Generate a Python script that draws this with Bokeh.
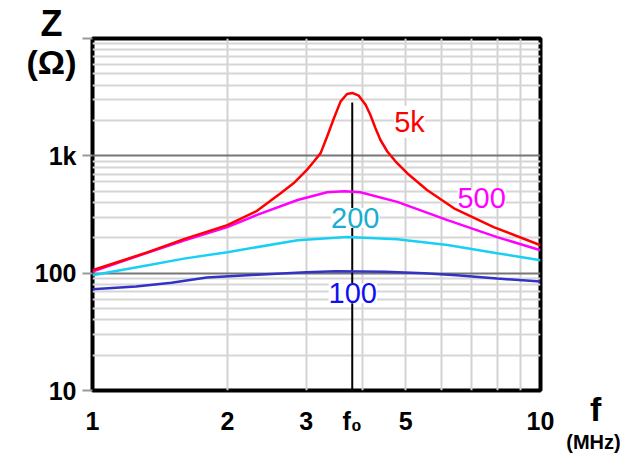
from bokeh.plotting import figure
from bokeh.models import FixedTicker, Grid, Label
from bokeh.embed import file_html
from bokeh.resources import INLINE

# ---- data ----
f0 = 3.8
x_ticks = [1, 2, 3, f0, 5, 10]
x_tick_labels = ["1", "2", "3", "f\u2080", "5", "10"]
y_ticks = [10, 100, 1000, 10000]
y_tick_labels = ["10", "100", "1k", ""]
x_grid = [2, 3, 4, 5, 6, 7, 8, 9]
y_grid = [20, 30, 40, 50, 60, 70, 80, 90,
          200, 300, 400, 500, 600, 700, 800, 900,
          2000, 3000, 4000, 5000, 6000, 7000, 8000, 9000]
y_decades = [100, 1000]

f_5k = [1.0, 1.33, 1.6, 2.0, 2.33, 2.63, 2.81, 3.01, 3.12, 3.23, 3.34, 3.46, 3.58, 3.70, 3.80,
        3.93, 4.07, 4.17, 4.28, 4.39, 4.55, 4.75, 5.04, 5.58, 6.41, 7.86, 10.0]
z_5k = [106, 151, 195, 257, 340, 480, 583, 759, 894, 1055, 1462, 2099, 2912, 3367, 3434,
        3258, 2729, 2240, 1726, 1371, 1089, 894, 711, 512, 357, 247, 173]

f_500 = [1.0, 1.33, 1.6, 2.0, 2.33, 2.87, 3.34, 3.65, 3.96, 4.79, 6.2, 8.0, 10.0]
z_500 = [103, 150, 190, 247, 314, 420, 490, 500, 490, 405, 283, 203, 157]

f_200 = [1.0, 1.33, 1.6, 2.0, 2.87, 3.7, 4.79, 6.2, 8.0, 10.0]
z_200 = [96, 117, 133, 151, 191, 203, 195, 174, 148, 129]

f_100 = [1.0, 1.25, 1.5, 1.8, 2.33, 3.0, 3.5, 4.5, 5.5, 6.5, 8.0, 10.0]
z_100 = [73, 77, 83, 92, 97, 102, 104, 103, 100, 96, 90, 85]

curve_names = ["5k", "500", "200", "100"]
curve_colors = ["#ff0000", "#ff00ff", "#18d0f4", "#3232c4"]
label_colors = ["#ff0000", "#ff00ff", "#1aaed0", "#1010f0"]
label_pos = [(5.1, 1950), (7.39, 437), (3.86, 295), (3.81, 67.5)]

FONT = "Liberation Sans"

p = figure(width=639, height=455, x_axis_type="log", y_axis_type="log",
           x_range=(1, 10), y_range=(10, 10000),
           output_backend="svg", toolbar_location=None,
           min_border_left=92, min_border_right=99,
           min_border_top=38, min_border_bottom=65,
           background_fill_color="white", border_fill_color="white")

p.outline_line_color = "black"
p.outline_line_width = 4

# grids
p.xgrid.ticker = FixedTicker(ticks=x_grid)
p.xgrid.grid_line_color = "#d2d2d2"
p.xgrid.grid_line_width = 2
p.ygrid.ticker = FixedTicker(ticks=y_grid)
p.ygrid.grid_line_color = "#d6d6d6"
p.ygrid.grid_line_width = 2
p.add_layout(Grid(dimension=1, ticker=FixedTicker(ticks=y_decades),
                  grid_line_color="#777777", grid_line_width=2))

# axes
p.xaxis.ticker = FixedTicker(ticks=x_ticks)
p.xaxis.major_label_overrides = {t: l for t, l in zip(x_ticks, x_tick_labels)}
p.xaxis.axis_line_color = None
p.xaxis.major_tick_line_color = None
p.xaxis.minor_tick_line_color = None
p.xaxis.major_label_standoff = 10
p.xaxis.major_label_text_font = FONT
p.xaxis.major_label_text_font_style = "bold"
p.xaxis.major_label_text_font_size = "25px"
p.xaxis.major_label_text_color = "black"

p.yaxis.ticker = FixedTicker(ticks=y_ticks)
p.yaxis.major_label_overrides = {t: l for t, l in zip(y_ticks, y_tick_labels)}
p.yaxis.axis_line_color = None
p.yaxis.major_tick_line_color = "#999999"
p.yaxis.major_tick_line_width = 2
p.yaxis.major_tick_out = 10
p.yaxis.major_tick_in = 0
p.yaxis.minor_tick_line_color = None
p.yaxis.major_label_standoff = 6
p.yaxis.major_label_text_font = FONT
p.yaxis.major_label_text_font_style = "bold"
p.yaxis.major_label_text_font_size = "25px"
p.yaxis.major_label_text_color = "black"

# f0 marker line
p.segment(x0=[f0], y0=[10], x1=[f0], y1=[max(z_5k) * 0.83],
          line_color="black", line_width=2)

# curves
series = [(f_100, z_100), (f_200, z_200), (f_500, z_500), (f_5k, z_5k)]
colors_in_order = [curve_colors[3], curve_colors[2], curve_colors[1], curve_colors[0]]
for (fx, zy), c in zip(series, colors_in_order):
    p.line(fx, zy, line_color=c, line_width=2.5)

# curve labels
for name, c, (lx, ly) in zip(curve_names, label_colors, label_pos):
    p.add_layout(Label(x=lx, y=ly, text=name, text_color=c,
                       text_font=FONT, text_font_size="29px",
                       text_align="center", text_baseline="middle",
                       background_fill_color="white"))

# axis titles: placed in side panels (not clipped to the frame); the panel
# each one sits in is chosen so the borders stay within their minimum sizes
p.add_layout(Label(x=0.81, y=13550, text="Z", text_color="black", text_font=FONT,
                   text_font_style="bold", text_font_size="36px",
                   text_align="center", text_baseline="middle"), "right")
p.add_layout(Label(x=0.81, y=6350, text="(\u03a9)", text_color="black", text_font=FONT,
                   text_font_style="bold", text_font_size="34px",
                   text_align="center", text_baseline="middle"), "right")
p.add_layout(Label(x=13.27, y=7.0, text="f", text_color="black", text_font=FONT,
                   text_font_style="bold", text_font_size="34px",
                   text_align="center", text_baseline="middle"), "right")
p.add_layout(Label(x=13.13, y=3.66, text="(MHz)", text_color="black", text_font=FONT,
                   text_font_style="bold", text_font_size="20px",
                   text_align="center", text_baseline="middle"), "above")

open("out.html", "w").write(file_html(p, INLINE))
